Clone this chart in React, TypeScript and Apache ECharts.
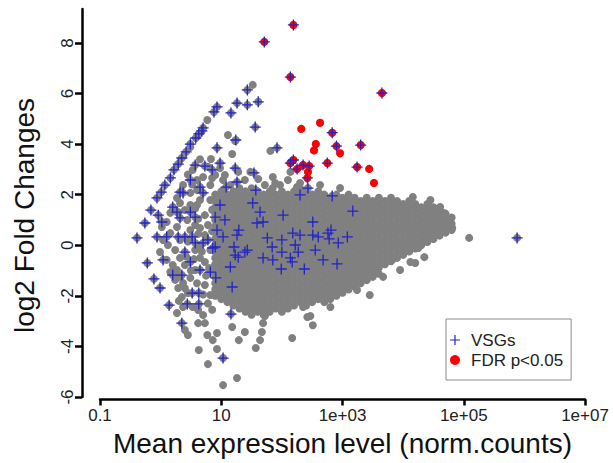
import React, { useEffect, useRef } from "react";
import * as echarts from "echarts";

const FONT = "'Liberation Sans', Arial, Helvetica, sans-serif";

// x axis works in log10(mean normalised counts)
const xTickValues = [-1, 1, 3, 5, 7];
const xTickLabels = ["0.1", "10", "1e+03", "1e+05", "1e+07"];
const yTickValues = [-6, -4, -2, 0, 2, 4, 6, 8];

// dense central cloud of genes: [log10 mean, [log2 fold changes]]
const grayCloudColumns: [number, number[]][] = [
  [0.9, [-2, -1.75, -1.5, -1.25, -1, -0.75, -0.5, -0.25, 0, 0.25, 0.5, 0.75, 1, 1.25, 1.5, 1.75, 2]],
  [1.0, [-2.13, -1.88, -1.63, -1.38, -1.13, -0.88, -0.63, -0.38, -0.13, 0.13, 0.38, 0.63, 0.88, 1.13, 1.38, 1.63, 1.88, 2.13]],
  [1.1, [-2.25, -2, -1.75, -1.5, -1.25, -1, -0.75, -0.5, -0.25, 0, 0.25, 0.5, 0.75, 1, 1.25, 1.5, 1.75, 2]],
  [1.2, [-2.38, -2.13, -1.88, -1.63, -1.38, -1.13, -0.88, -0.63, -0.38, -0.13, 0.13, 0.38, 0.63, 0.88, 1.13, 1.38, 1.63, 1.88, 2.13]],
  [1.3, [-2.5, -2.25, -2, -1.75, -1.5, -1.25, -1, -0.75, -0.5, -0.25, 0, 0.25, 0.5, 0.75, 1, 1.25, 1.5, 1.75, 2, 2.25]],
  [1.4, [-2.63, -2.38, -2.13, -1.88, -1.63, -1.38, -1.13, -0.88, -0.63, -0.38, -0.13, 0.13, 0.38, 0.63, 0.88, 1.13, 1.38, 1.63, 1.88, 2.13]],
  [1.5, [-2.75, -2.5, -2.25, -2, -1.75, -1.5, -1.25, -1, -0.75, -0.5, -0.25, 0, 0.25, 0.5, 0.75, 1, 1.25, 1.5, 1.75, 2, 2.25]],
  [1.6, [-2.63, -2.38, -2.13, -1.88, -1.63, -1.38, -1.13, -0.88, -0.63, -0.38, -0.13, 0.13, 0.38, 0.63, 0.88, 1.13, 1.38, 1.63, 1.88, 2.13]],
  [1.7, [-2.75, -2.5, -2.25, -2, -1.75, -1.5, -1.25, -1, -0.75, -0.5, -0.25, 0, 0.25, 0.5, 0.75, 1, 1.25, 1.5, 1.75, 2]],
  [1.8, [-2.63, -2.38, -2.13, -1.88, -1.63, -1.38, -1.13, -0.88, -0.63, -0.38, -0.13, 0.13, 0.38, 0.63, 0.88, 1.13, 1.38, 1.63, 1.88, 2.13]],
  [1.9, [-2.5, -2.25, -2, -1.75, -1.5, -1.25, -1, -0.75, -0.5, -0.25, 0, 0.25, 0.5, 0.75, 1, 1.25, 1.5, 1.75, 2]],
  [2.0, [-2.63, -2.38, -2.13, -1.88, -1.63, -1.38, -1.13, -0.88, -0.63, -0.38, -0.13, 0.13, 0.38, 0.63, 0.88, 1.13, 1.38, 1.63, 1.88, 2.13]],
  [2.1, [-2.5, -2.25, -2, -1.75, -1.5, -1.25, -1, -0.75, -0.5, -0.25, 0, 0.25, 0.5, 0.75, 1, 1.25, 1.5, 1.75, 2]],
  [2.2, [-2.38, -2.13, -1.88, -1.63, -1.38, -1.13, -0.88, -0.63, -0.38, -0.13, 0.13, 0.38, 0.63, 0.88, 1.13, 1.38, 1.63, 1.88, 2.13]],
  [2.3, [-2.25, -2, -1.75, -1.5, -1.25, -1, -0.75, -0.5, -0.25, 0, 0.25, 0.5, 0.75, 1, 1.25, 1.5, 1.75, 2, 2.25]],
  [2.4, [-2.38, -2.13, -1.88, -1.63, -1.38, -1.13, -0.88, -0.63, -0.38, -0.13, 0.13, 0.38, 0.63, 0.88, 1.13, 1.38, 1.63, 1.88, 2.13]],
  [2.5, [-2.25, -2, -1.75, -1.5, -1.25, -1, -0.75, -0.5, -0.25, 0, 0.25, 0.5, 0.75, 1, 1.25, 1.5, 1.75, 2]],
  [2.6, [-2.13, -1.88, -1.63, -1.38, -1.13, -0.88, -0.63, -0.38, -0.13, 0.13, 0.38, 0.63, 0.88, 1.13, 1.38, 1.63, 1.88, 2.13]],
  [2.7, [-2.25, -2, -1.75, -1.5, -1.25, -1, -0.75, -0.5, -0.25, 0, 0.25, 0.5, 0.75, 1, 1.25, 1.5, 1.75, 2]],
  [2.8, [-2.13, -1.88, -1.63, -1.38, -1.13, -0.88, -0.63, -0.38, -0.13, 0.13, 0.38, 0.63, 0.88, 1.13, 1.38, 1.63, 1.88]],
  [2.9, [-2, -1.75, -1.5, -1.25, -1, -0.75, -0.5, -0.25, 0, 0.25, 0.5, 0.75, 1, 1.25, 1.5, 1.75, 2]],
  [3.0, [-1.88, -1.63, -1.38, -1.13, -0.88, -0.63, -0.38, -0.13, 0.13, 0.38, 0.63, 0.88, 1.13, 1.38, 1.63, 1.88]],
  [3.1, [-1.75, -1.5, -1.25, -1, -0.75, -0.5, -0.25, 0, 0.25, 0.5, 0.75, 1, 1.25, 1.5, 1.75, 2]],
  [3.2, [-1.63, -1.38, -1.13, -0.88, -0.63, -0.38, -0.13, 0.13, 0.38, 0.63, 0.88, 1.13, 1.38, 1.63, 1.88]],
  [3.3, [-1.5, -1.25, -1, -0.75, -0.5, -0.25, 0, 0.25, 0.5, 0.75, 1, 1.25, 1.5, 1.75]],
  [3.4, [-1.38, -1.13, -0.88, -0.63, -0.38, -0.13, 0.13, 0.38, 0.63, 0.88, 1.13, 1.38, 1.63, 1.88]],
  [3.5, [-1.25, -1, -0.75, -0.5, -0.25, 0, 0.25, 0.5, 0.75, 1, 1.25, 1.5, 1.75]],
  [3.6, [-1.13, -0.88, -0.63, -0.38, -0.13, 0.13, 0.38, 0.63, 0.88, 1.13, 1.38, 1.63, 1.88]],
  [3.7, [-0.75, -0.5, -0.25, 0, 0.25, 0.5, 0.75, 1, 1.25, 1.5, 1.75]],
  [3.8, [-0.63, -0.38, -0.13, 0.13, 0.38, 0.63, 0.88, 1.13, 1.38, 1.63, 1.88]],
  [3.9, [-0.5, -0.25, 0, 0.25, 0.5, 0.75, 1, 1.25, 1.5, 1.75]],
  [4.0, [-0.38, -0.13, 0.13, 0.38, 0.63, 0.88, 1.13, 1.38, 1.63]],
  [4.1, [-0.25, 0, 0.25, 0.5, 0.75, 1, 1.25, 1.5, 1.75]],
  [4.2, [-0.13, 0.13, 0.38, 0.63, 0.88, 1.13, 1.38, 1.63]],
  [4.3, [0, 0.25, 0.5, 0.75, 1, 1.25, 1.5]],
  [4.4, [0.13, 0.38, 0.63, 0.88, 1.13, 1.38, 1.63]],
  [4.5, [0.25, 0.5, 0.75, 1, 1.25, 1.5]],
  [4.6, [0.38, 0.63, 0.88, 1.13, 1.38]],
  [4.7, [0.5, 0.75, 1, 1.25]],
  [4.8, [0.6, 0.85, 1.1]],
];

// scattered genes outside the dense cloud: [log10 mean, log2 fold change]
const grayScatter: [number, number][] = [
  [1.52, 6.34], [0.77, 4.95], [1.11, 4.36], [1.23, 4.12], [1.81, 3.73], [1.18, 3.61], [0.83, 3.41],
  [1.28, 2.9], [1.85, 2.7], [2.14, 2.9], [0.49, 3.88], [0.6, 2.58], [0.37, 2.38], [0.27, 1.87],
  [0.16, 1.28], [0.1, 0.92], [0.02, 0.72], [0.85, 2.66], [0.98, 3.05], [0.6, 2.18], [1.03, 2.58],
  [1.61, 2.62], [1.89, 2.46], [1.85, 2.26], [2.1, 2.58], [1.23, 2.07], [0.53, 2.98], [2.25, 2.3],
  [0.04, 0.21], [-0.01, -0.27], [0.1, -0.58], [0.16, -1.06], [0.24, -1.37], [0.29, -1.69],
  [0.35, -2.05], [0.37, -2.44], [0.27, -2.68], [0.4, -3.35], [0.45, -3.55], [0.62, -3.08],
  [0.77, -3.55], [0.63, -4.14], [0.93, -4.1], [0.78, -4.7], [1.26, -5.25], [1.03, -5.53],
  [1.29, -3.75], [1.18, -3.23], [1.39, -3.43], [1.57, -4.06], [1.64, -3.75], [1.67, -3.43],
  [1.69, -3.08], [1.72, -2.8], [2.17, -3.67], [2.51, -3.16], [2.47, -2.8], [0.93, -3.47],
  [0.53, -2.44], [0.62, -2.56], [0.7, -2.76], [0.73, -3.08], [0.86, -3.75], [0.45, -1.89],
  [0.32, -1.25], [0.27, -0.98], [0.2, -0.78], [0.12, 0.01], [0.32, 0.21], [0.27, 0.72], [0.37, -1.49],
  [0.49, 0.6], [0.65, 0.68], [0.73, 0.4], [0.57, -0.19], [0.65, -0.5], [0.73, -0.66], [0.57, -0.98],
  [0.49, -1.29], [0.73, -1.57], [0.82, -1.97], [0.4, -0.78], [0.65, 0.01], [0.82, -0.19],
  [0.49, 1.59], [0.65, 1.79], [0.4, 1.39], [0.57, 0.8], [0.73, 1.19], [0.82, 1.79], [0.78, 0.8],
  [0.16, 0.48], [0.24, -0.19], [0.32, -0.5], [0.44, 1.0], [0.32, 1.67], [0.49, 2.07], [0.6, 1.59],
  [0.82, 2.38], [0.9, 2.78], [1.06, 2.78], [1.15, 2.38], [1.39, 2.58], [1.48, 2.9], [1.72, 2.38],
  [1.97, 2.38], [2.3, 2.46], [2.63, 2.38], [2.96, 2.26],
  [0.57, 1.45], [0.62, 0.45], [0.68, -0.25], [0.75, -1.2], [0.8, -0.9], [0.6, -1.5], [0.7, -1.95],
  [0.55, -0.55], [0.85, 0.55], [0.85, 1.4], [0.62, 1.05], [0.45, 0.15], [0.42, -0.45], [0.5, -1.0],
  [0.78, -2.3], [0.85, -2.55], [0.4, -1.7], [0.3, -2.2], [0.52, 2.4], [0.7, 2.7], [0.78, 3.1],
  [0.65, 3.4], [0.45, 2.8], [0.3, 1.3],
  [3.45, -1.97], [3.24, -1.77], [2.8, -2.44], [2.42, -2.84], [2.35, -2.44], [3.82, -0.58],
  [4.2, -0.7], [4.35, -0.47], [4.25, -0.11], [4.33, 0.29], [4.56, 0.6], [4.81, 0.68], [5.09, 0.29],
  [4.73, 0.92], [4.66, 1.28], [4.61, 1.51], [4.45, 1.79], [4.16, 1.91], [3.67, -1.25], [3.95, -0.98],
  [4.12, -0.66],
];

// VSG genes, not significant
const vsgPoints: [number, number][] = [
  [1.43, 6.14], [1.26, 5.62], [1.43, 5.55], [1.61, 5.67], [0.93, 5.47], [0.88, 5.27], [1.16, 5.23],
  [0.7, 4.64], [1.56, 4.67], [0.68, 4.52], [0.63, 4.4], [0.58, 4.24], [1.24, 4.16], [0.49, 4.0],
  [0.93, 3.85], [0.42, 3.69], [0.35, 3.45], [1.92, 3.85], [0.29, 3.21], [0.22, 2.98], [0.16, 2.66],
  [0.07, 2.38], [0.01, 2.1], [-0.06, 1.87], [-0.16, 1.39], [-0.26, 0.88], [-0.39, 0.29],
  [0.57, 3.17], [0.73, 3.13], [0.85, 2.98], [0.98, 3.25], [1.23, 3.05], [1.54, 2.86], [0.49, 2.58],
  [0.32, 2.1], [0.2, 1.51], [0.65, 2.3], [1.26, 2.5], [1.08, 2.3], [1.57, 2.18], [0.7, 2.07],
  [0.37, 2.07], [0.49, 1.31], [0.27, 1.31], [0.32, 1.08], [0.02, 0.92], [-0.04, 1.19], [0.57, 1.11],
  [0.98, 1.59], [0.9, 1.11], [1.06, 1.0], [0.93, 0.6], [1.52, 1.67], [1.64, 1.31], [1.69, 0.92],
  [1.59, 0.88], [2.02, 1.19], [2.3, 1.99], [2.51, 0.92], [2.18, 0.48], [2.76, 0.48], [1.76, 0.29],
  [2.0, 0.21], [1.29, 0.6], [0.78, 0.21], [0.57, 0.09], [0.4, 0.33], [0.86, -0.11], [1.21, -0.07],
  [1.43, -0.19], [1.28, -0.47], [1.69, -0.5], [1.85, -0.58], [1.99, -0.94], [2.14, -0.5],
  [2.27, -0.27], [2.55, -0.19], [2.37, -0.94], [1.15, -0.86], [0.91, -1.29], [0.65, -0.98],
  [0.63, -1.89], [0.52, -1.89], [0.44, -2.32], [0.63, -2.32], [0.35, -3.08], [0.14, -2.37],
  [-0.01, -1.69], [-0.11, -1.33], [-0.22, -0.7], [-0.06, 0.33], [1.18, -1.65], [1.16, -2.72],
  [1.03, -4.46], [0.2, -1.18], [0.35, -1.18], [0.04, -0.58], [0.1, 0.33], [0.29, 0.33], [0.52, 0.33],
  [0.7, 0.09], [0.9, -0.07], [1.39, -0.27], [0.82, -1.06], [0.4, -0.27], [0.49, -0.66], [1.84, -0.07],
  [2.0, -0.27], [2.17, -0.66], [2.22, 0.01], [2.51, 0.4], [1.23, -0.39], [1.26, 0.4], [1.03, 0.33],
  [2.83, 1.95], [2.43, 2.26], [3.17, 1.35], [2.81, 0.6], [2.78, 0.25], [3.08, 0.33], [2.93, 0.09],
  [2.6, 0.33], [2.68, -0.58], [2.91, -0.74], [2.3, 0.4], [5.88, 0.29],
];

// significant (FDR p<0.05) VSG genes
const sigVsgPoints: [number, number][] = [
  [2.19, 8.71], [1.71, 8.04], [2.14, 6.65], [3.65, 6.02], [2.83, 4.45], [2.9, 3.92], [3.3, 3.96],
  [2.75, 3.25], [3.24, 3.09], [2.35, 3.17], [2.45, 3.13], [2.19, 3.37], [2.14, 3.25], [2.42, 2.66],
  [2.25, 3.01],
];

// significant (FDR p<0.05) other genes
const sigOtherPoints: [number, number][] = [
  [2.32, 4.6], [2.63, 4.84], [2.56, 4.0], [2.53, 3.75], [2.96, 3.64], [3.44, 3.02], [3.52, 2.46],
  [2.43, 2.9],
];

const PLUS = "path://M4.4,0H5.6V4.4H10V5.6H5.6V10H4.4V5.6H0V4.4H4.4Z";

export default function App() {
  const ref = useRef<HTMLDivElement | null>(null);

  useEffect(() => {
    if (!ref.current) return;
    const chart = echarts.init(ref.current, undefined, { renderer: "svg" });

    const cloud = grayCloudColumns.flatMap(([x, ys]) => ys.map((y) => [x, y]));
    const allGenes = [...cloud, ...grayScatter, ...vsgPoints, ...sigVsgPoints, ...sigOtherPoints];
    const sigAll = [...sigVsgPoints, ...sigOtherPoints];
    const vsgAll = [...vsgPoints, ...sigVsgPoints];

    chart.setOption({
      animation: false,
      backgroundColor: "#ffffff",
      textStyle: { fontFamily: FONT },
      grid: { left: 100, right: 28, top: 9, bottom: 66 },
      xAxis: {
        type: "value",
        min: -1,
        max: 7,
        offset: 2.5,
        axisLine: { show: true, onZero: false, lineStyle: { color: "#000", width: 2.5 } },
        axisTick: {
          show: true,
          length: 6,
          customValues: xTickValues,
          lineStyle: { color: "#000", width: 2.5 },
        },
        axisLabel: {
          customValues: xTickValues,
          formatter: (v: number) => {
            const i = xTickValues.indexOf(v);
            return i >= 0 ? xTickLabels[i] : "";
          },
          fontSize: 17,
          color: "#222",
          margin: 7,
          fontFamily: FONT,
        },
        splitLine: { show: false },
        name: "Mean expression level (norm.counts)",
        nameLocation: "middle",
        nameGap: 30,
        nameTextStyle: { fontSize: 28, color: "#111", fontFamily: FONT },
      },
      yAxis: {
        type: "value",
        min: -6,
        max: 9.34,
        offset: 18,
        axisLine: { show: true, onZero: false, lineStyle: { color: "#000", width: 2.5 } },
        axisTick: {
          show: true,
          length: 7,
          customValues: yTickValues,
          lineStyle: { color: "#000", width: 2.5 },
        },
        axisLabel: {
          customValues: yTickValues,
          rotate: 90,
          fontSize: 17,
          color: "#222",
          margin: 6,
          fontFamily: FONT,
        },
        splitLine: { show: false },
        name: "log2 Fold Changes",
        nameLocation: "middle",
        nameGap: 44,
        nameRotate: 90,
        nameTextStyle: { fontSize: 28, color: "#111", fontFamily: FONT, padding: [0, 25, 0, 0] },
      },
      legend: {
        orient: "vertical",
        left: 446,
        top: 319,
        padding: [12, 8, 11, 4],
        itemWidth: 22,
        itemHeight: 10,
        itemGap: 2,
        borderColor: "#8c8c8c",
        borderWidth: 1,
        backgroundColor: "#ffffff",
        selectedMode: false,
        textStyle: { fontSize: 17, color: "#222", lineHeight: 18, fontFamily: FONT },
        data: [
          { name: "VSGs", icon: PLUS },
          { name: "FDR p<0.05", icon: "circle" },
        ],
      },
      series: [
        {
          name: "All genes",
          type: "scatter",
          data: allGenes,
          symbol: "circle",
          symbolSize: 8,
          itemStyle: { color: "#808080", opacity: 1 },
          silent: true,
          z: 1,
        },
        {
          name: "FDR p<0.05",
          type: "scatter",
          data: sigAll,
          symbol: "circle",
          symbolSize: 8,
          itemStyle: { color: "#ff0000", opacity: 1 },
          silent: true,
          z: 2,
        },
        {
          name: "VSGs",
          type: "scatter",
          data: vsgAll,
          symbol: PLUS,
          symbolSize: 11,
          itemStyle: { color: "#2323c8", opacity: 1 },
          silent: true,
          z: 3,
        },
      ],
    });

    return () => chart.dispose();
  }, []);

  return (
    <div
      ref={ref}
      style={{ position: "fixed", left: 0, top: 0, width: 613, height: 463, background: "#fff" }}
    />
  );
}
